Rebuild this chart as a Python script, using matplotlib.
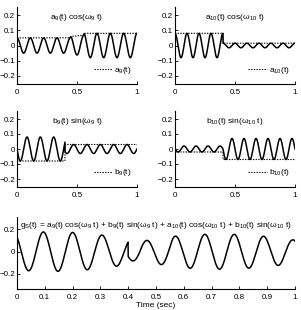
import numpy as np
import matplotlib
matplotlib.use("Agg")
import matplotlib.pyplot as plt

plt.rcParams["font.family"] = ["Liberation Sans", "DejaVu Sans"]
plt.rcParams["mathtext.default"] = "regular"
plt.rcParams["axes.unicode_minus"] = True

# ---- data -------------------------------------------------------------
# component frequencies (Hz)
f9 = 9
f10 = 10

# slowly varying amplitudes: knot times and values
a9_t = [0.0, 0.44, 0.45, 0.55, 0.56, 1.0]
a9_v = [0.05, 0.05, 0.06, 0.065, 0.08, 0.08]
a10_t = [0.0, 0.4, 0.4, 1.0]
a10_v = [0.08, 0.08, 0.015, 0.015]
b9_t = [0.0, 0.4, 0.4, 1.0]
b9_v = [-0.08, -0.08, 0.03, 0.03]
b10_t = [0.0, 0.4, 0.4, 1.0]
b10_v = [-0.02, -0.02, -0.07, -0.07]

top_yticks = [-0.2, -0.1, 0, 0.1, 0.2]
top_xticks = [0, 0.5, 1]
bot_yticks = [-0.2, 0, 0.2]
bot_xticks = [0, 0.1, 0.2, 0.3, 0.4, 0.5, 0.6, 0.7, 0.8, 0.9, 1]

t = np.linspace(0, 1, 2001)


def env(kt, kv):
    # step-like envelope; repeated knot times give sharp jumps
    kt = np.asarray(kt)
    kv = np.asarray(kv)
    out = np.interp(t, kt, kv)
    for i in range(1, len(kt)):
        if kt[i] == kt[i - 1]:
            out[t >= kt[i]] = np.interp(t[t >= kt[i]], kt[i:], kv[i:])
    return out


a9 = env(a9_t, a9_v)
a10 = env(a10_t, a10_v)
b9 = env(b9_t, b9_v)
b10 = env(b10_t, b10_v)

c9 = a9 * np.cos(2 * np.pi * f9 * t)
c10 = a10 * np.cos(2 * np.pi * f10 * t)
s9 = b9 * np.sin(2 * np.pi * f9 * t)
s10 = b10 * np.sin(2 * np.pi * f10 * t)
gs = c9 + s9 + c10 + s10

W, H = 301, 310
fig = plt.figure(figsize=(W / 100, H / 100), dpi=100)


def px_axes(x0, x1, ytop, ybot):
    return fig.add_axes([x0 / W, (H - ybot) / H, (x1 - x0) / W, (ybot - ytop) / H])


def style(ax, xticks, yticks, ylim):
    ax.set_xlim(0, 1)
    ax.set_ylim(*ylim)
    ax.set_xticks(xticks)
    ax.set_yticks(yticks)
    ax.set_xticklabels([f"{v:g}" for v in xticks])
    ax.set_yticklabels([f"{v:g}".replace("-", "\u2212") for v in yticks])
    for s in ("top", "right"):
        ax.spines[s].set_visible(False)
    for s in ("left", "bottom"):
        ax.spines[s].set_linewidth(0.8)
    ax.tick_params(direction="in", length=2.5, width=0.6, labelsize=5.8)
    ax.tick_params(axis="y", pad=1.5)
    ax.tick_params(axis="x", pad=4)


panels = [
    (17, 137, 7.4, 83.6, c9, a9, "a$_9$(t) cos(\u03c9$_9$ t)", "a$_9$(t)"),
    (175, 295, 7.4, 83.6, c10, a10, "a$_{10}$(t) cos(\u03c9$_{10}$ t)", "a$_{10}$(t)"),
    (17, 137, 111.5, 186.5, s9, b9, "b$_9$(t) sin(\u03c9$_9$ t)", "b$_9$(t)"),
    (175, 295, 111.5, 186.5, s10, b10, "b$_{10}$(t) sin(\u03c9$_{10}$ t)", "b$_{10}$(t)"),
]

for x0, x1, yt, yb, sig, amp, title, lab in panels:
    ax = px_axes(x0, x1, yt, yb)
    ax.plot(t, sig, color="black", lw=1.1)
    ax.plot(t, amp, color="black", lw=0.8, ls=(0, (1.2, 1.2)), label=lab)
    style(ax, top_xticks, top_yticks, (-0.25, 0.25))
    ax.text(0.5, 0.94, title, transform=ax.transAxes, ha="center", va="top",
            fontsize=6)
    ax.legend(loc="lower right", bbox_to_anchor=(1.0, 0.04), frameon=False,
              fontsize=6, handlelength=2.2, handletextpad=0.3,
              borderaxespad=0.2)

ax = px_axes(17, 295, 217, 288.5)
ax.plot(t, gs, color="black", lw=1.1)
style(ax, bot_xticks, bot_yticks, (-0.33, 0.31))
ax.text(0.5, 0.96,
        "g$_S$(t) = a$_9$(t) cos(\u03c9$_9$ t) + b$_9$(t) sin(\u03c9$_9$ t)"
        " + a$_{10}$(t) cos(\u03c9$_{10}$ t) + b$_{10}$(t) sin(\u03c9$_{10}$ t)",
        transform=ax.transAxes, ha="center", va="top", fontsize=6)
ax.set_xlabel("Time (sec)", fontsize=6, labelpad=1)

fig.savefig("out.png", dpi=100)
